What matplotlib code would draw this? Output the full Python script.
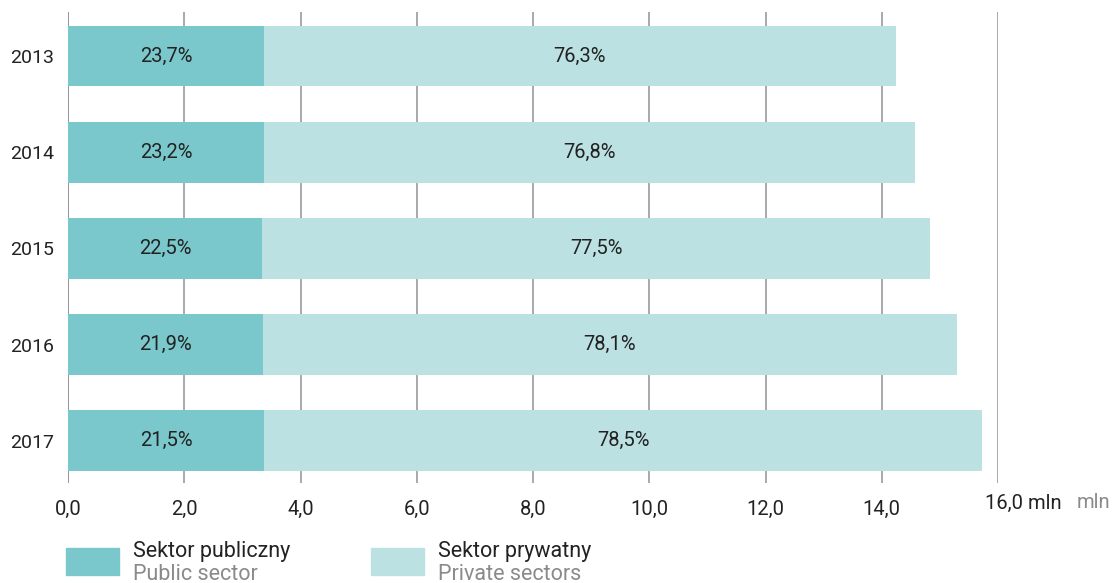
"""Public vs private sector employment, 2013-2017, horizontal stacked bars."""

import matplotlib.pyplot as plt
from matplotlib.patches import Rectangle

YEARS = ["2013", "2014", "2015", "2016", "2017"]
PUBLIC_MLN = [3.37, 3.38, 3.34, 3.35, 3.38]
PRIVATE_MLN = [10.87, 11.19, 11.49, 11.94, 12.34]
PUBLIC_PCT = ["23,7%", "23,2%", "22,5%", "21,9%", "21,5%"]
PRIVATE_PCT = ["76,3%", "76,8%", "77,5%", "78,1%", "78,5%"]
X_TICKS = [0, 2, 4, 6, 8, 10, 12, 14, 16]
# last tick carries the unit, drawn separately below
X_TICK_LABELS = ["0,0", "2,0", "4,0", "6,0", "8,0", "10,0", "12,0", "14,0", ""]

C_PUBLIC = "#7bc8cc"
C_PRIVATE = "#bce1e3"
C_TEXT = "#222222"
C_GREY = "#8a8a8a"
C_GRID = "#a3a3a3"
FS = 14.5

plt.rcParams["font.family"] = ["Roboto", "DejaVu Sans"]

W, H = 1115, 583
fig = plt.figure(figsize=(W / 100, H / 100), dpi=100)
ax = fig.add_axes([68 / W, (H - 483) / H, (998 - 68) / W, (483 - 12) / H])

pos = list(range(len(YEARS)))
ax.barh(pos, PUBLIC_MLN, height=0.63, color=C_PUBLIC, zorder=2)
ax.barh(pos, PRIVATE_MLN, left=PUBLIC_MLN, height=0.63, color=C_PRIVATE, zorder=2)

for i in pos:
    ax.text(PUBLIC_MLN[i] / 2, i, PUBLIC_PCT[i], ha="center", va="center",
            fontsize=FS, color=C_TEXT, zorder=3)
    ax.text(PUBLIC_MLN[i] + PRIVATE_MLN[i] / 2, i, PRIVATE_PCT[i], ha="center",
            va="center", fontsize=FS, color=C_TEXT, zorder=3)

ax.set_xlim(0, 16)
ax.set_ylim(4.44, -0.46)
for x in X_TICKS:
    ax.axvline(x, color="#8c8c8c" if x == 0 else C_GRID, linewidth=1.3, zorder=1)

ax.set_xticks(X_TICKS)
ax.set_xticklabels(X_TICK_LABELS)
ax.set_yticks(pos)
ax.set_yticklabels(YEARS)
ax.tick_params(axis="both", length=0, labelcolor=C_TEXT)
ax.tick_params(axis="x", pad=12, labelsize=FS)
ax.tick_params(axis="y", pad=10, labelsize=14)
for s in ax.spines.values():
    s.set_visible(False)

# unit labels after the last tick
fig.text(985 / W, 1 - 503 / H, "16,0 mln", ha="left", va="center", fontsize=FS,
         color=C_TEXT)
fig.text(1077 / W, 1 - 503 / H, "mln", ha="left", va="center", fontsize=FS,
         color=C_GREY)

# legend
legend_items = [
    (66, C_PUBLIC, "Sektor publiczny", "Public sector"),
    (371, C_PRIVATE, "Sektor prywatny", "Private sectors"),
]
for x0, color, pl, en in legend_items:
    fig.patches.append(Rectangle((x0 / W, 1 - 575 / H), 53 / W, 27 / H,
                                 transform=fig.transFigure, color=color))
    fig.text((x0 + 67) / W, 1 - 551 / H, pl, ha="left", va="center",
             fontsize=15.5, color=C_TEXT)
    fig.text((x0 + 67) / W, 1 - 574 / H, en, ha="left", va="center",
             fontsize=15.5, color=C_GREY)

fig.savefig("out.png", dpi=100)
